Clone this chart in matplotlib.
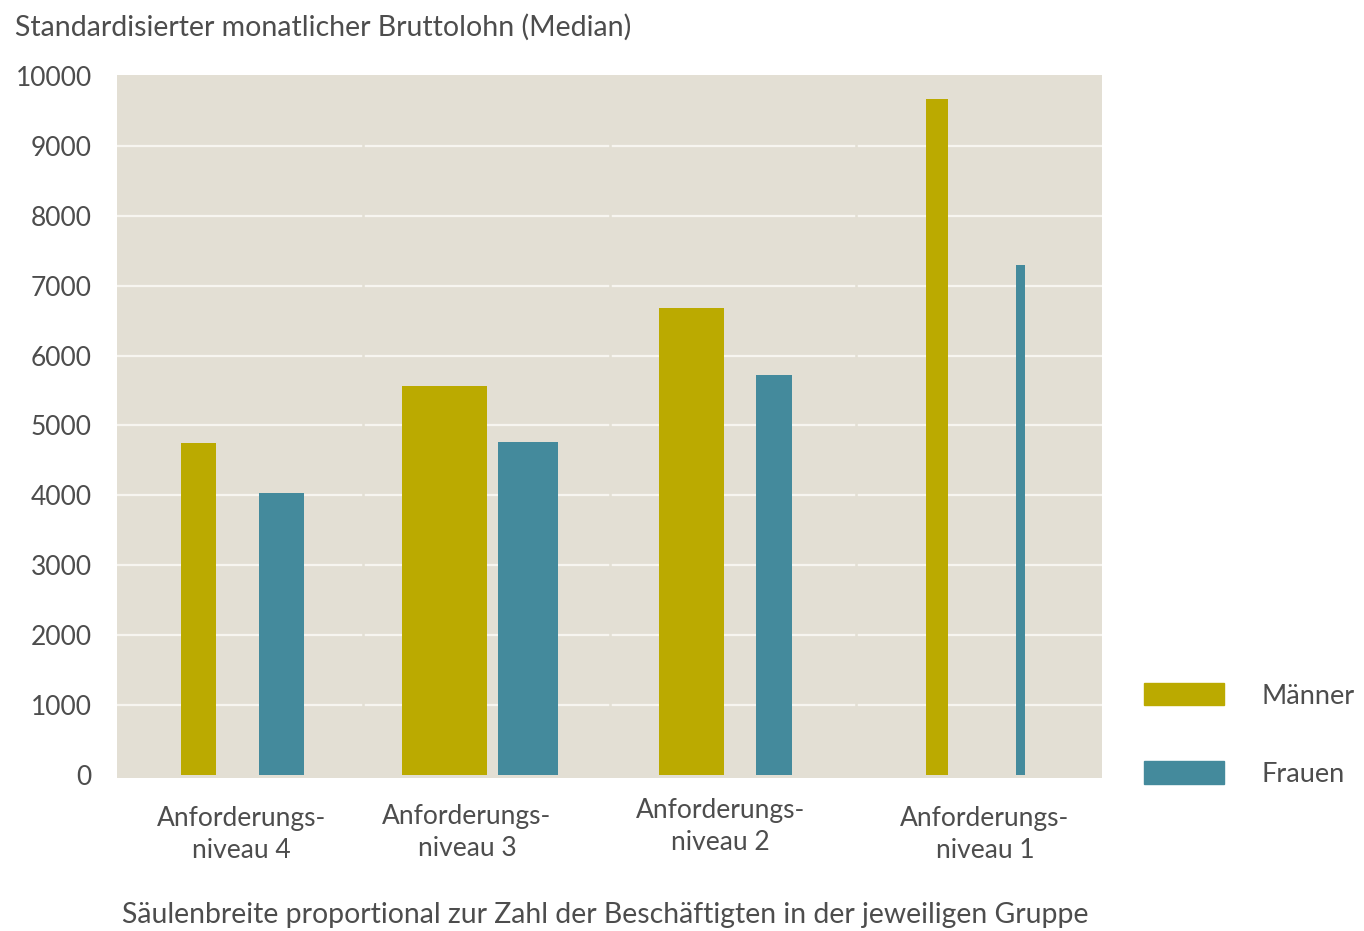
import matplotlib
matplotlib.use('Agg')
import matplotlib.pyplot as plt
from matplotlib.patches import Patch
from matplotlib.transforms import blended_transform_factory
import numpy as np

plt.rcParams['font.family'] = ['Lato', 'DejaVu Sans']

# Daten
kategorien = ['Anforderungs-\nniveau 4', 'Anforderungs-\nniveau 3',
              'Anforderungs-\nniveau 2', 'Anforderungs-\nniveau 1']
lohn_maenner = [4750, 5560, 6680, 9670]
lohn_frauen = [4040, 4760, 5720, 7300]
# Säulenbreite ~ Zahl der Beschäftigten (relativ)
breite_maenner = [0.146, 0.346, 0.264, 0.089]
breite_frauen = [0.184, 0.240, 0.146, 0.034]
y_ticks = [0, 1000, 2000, 3000, 4000, 5000, 6000, 7000, 8000, 9000, 10000]

FARBE_M = '#bbaa00'
FARBE_F = '#448a9c'
HINTERGRUND = '#e3dfd4'
TEXT = '#4d4d4d'

fig = plt.figure(figsize=(13.64, 9.31), dpi=100)
ax = fig.add_axes([117 / 1364, 1 - 778 / 931, 985 / 1364, 703 / 931])
ax.set_facecolor(HINTERGRUND)

n = len(kategorien)
mitte = np.arange(n) + 0.5
versatz = 0.169

ax.bar(mitte - versatz, lohn_maenner, width=breite_maenner, color=FARBE_M, zorder=3)
ax.bar(mitte + versatz, lohn_frauen, width=breite_frauen, color=FARBE_F, zorder=3)

ax.set_xlim(0, n)
ax.set_ylim(-40, 10010)

# horizontale Gitterlinien, an den Gruppengrenzen unterbrochen
for y in y_ticks[1:-1]:
    ax.axhline(y, color='#f7f5f0', lw=1.6, zorder=1)
for x in range(1, n):
    ax.axvline(x, color=HINTERGRUND, lw=1.8, zorder=2)

ax.set_yticks(y_ticks)
ax.set_yticklabels([str(v) for v in y_ticks])
ax.tick_params(axis='y', length=0, pad=18, labelsize=19, labelcolor=TEXT)
ax.set_xticks([])
for s in ax.spines.values():
    s.set_visible(False)

# Kategorienbeschriftung
label_x = [0.504, 1.421, 2.449, 3.525]
label_y = [-0.040, -0.037, -0.029, -0.040]
trans = blended_transform_factory(ax.transData, ax.transAxes)
for lx, ly, txt in zip(label_x, label_y, kategorien):
    ax.text(lx, ly, txt, transform=trans, ha='center', va='top',
            fontsize=19, color=TEXT, linespacing=1.35)

fig.text(15 / 1364, 1 - 27 / 931, 'Standardisierter monatlicher Bruttolohn (Median)',
         ha='left', va='center', fontsize=20.5, color=TEXT)
fig.text(605 / 1364, 1 - 915 / 931,
         'Säulenbreite proportional zur Zahl der Beschäftigten in der jeweiligen Gruppe',
         ha='center', va='center', fontsize=20.4, color=TEXT)

handles = [Patch(color=FARBE_M, label='Männer'), Patch(color=FARBE_F, label='Frauen')]
fig.legend(handles=handles, loc='center left',
           bbox_to_anchor=(1144 / 1364, 1 - 735 / 931), bbox_transform=fig.transFigure,
           frameon=False, fontsize=19.5, labelcolor=TEXT, handlelength=2.95,
           handleheight=0.9, handletextpad=1.4, labelspacing=1.95,
           borderpad=0, borderaxespad=0)

fig.savefig('out.png', dpi=100, facecolor='white')
